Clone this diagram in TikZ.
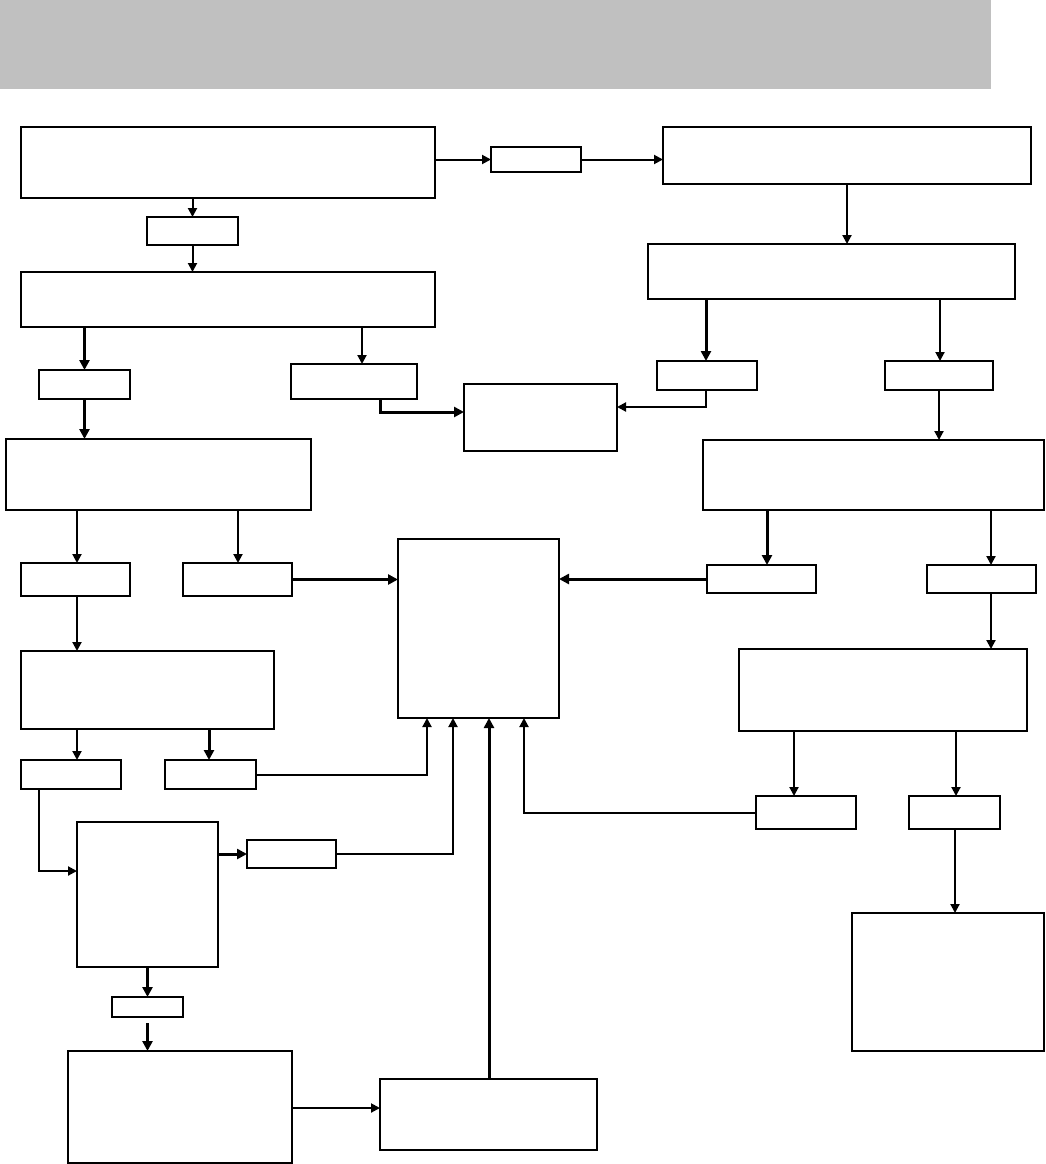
\documentclass[tikz,border=0pt]{standalone}
\usetikzlibrary{arrows.meta}
\definecolor{bannergray}{RGB}{192,192,192}
\begin{document}
\begin{tikzpicture}[x=1pt,y=-1pt,
  bx/.style={draw,line width=2.4pt,inner sep=0pt,outer sep=0pt,rectangle},
  con/.style={line width=2pt,-{Triangle[length=9pt,width=9pt]}},
  thk/.style={line width=3pt,-{Triangle[length=10pt,width=10pt]}},
  ln/.style={line width=2pt}]
\useasboundingbox (0,0) rectangle (1045,1164);
\fill[bannergray] (0,0) rectangle (991,89);
% boxes
\node[bx,minimum width=414pt,minimum height=71pt] (A) at (228,162.5) {};
\node[bx,minimum width=91pt,minimum height=28pt] (B) at (192.5,231) {};
\node[bx,minimum width=414pt,minimum height=55pt] (C) at (228,299.5) {};
\node[bx,minimum width=91pt,minimum height=29pt] (D) at (84.5,384.5) {};
\node[bx,minimum width=126pt,minimum height=35pt] (E) at (354,381.5) {};
\node[bx,minimum width=153pt,minimum height=67pt] (F) at (540.5,417.5) {};
\node[bx,minimum width=368pt,minimum height=57pt] (G) at (847,155.5) {};
\node[bx,minimum width=90pt,minimum height=25pt] (H) at (536,159.5) {};
\node[bx,minimum width=367pt,minimum height=55pt] (I) at (831.5,271.5) {};
\node[bx,minimum width=100pt,minimum height=29pt] (J) at (707,375.5) {};
\node[bx,minimum width=108pt,minimum height=29pt] (K) at (939,375.5) {};
\node[bx,minimum width=305pt,minimum height=71pt] (L) at (158.5,474.5) {};
\node[bx,minimum width=341pt,minimum height=70pt] (M) at (873.5,475) {};
\node[bx,minimum width=109pt,minimum height=33pt] (N) at (75.5,579.5) {};
\node[bx,minimum width=109pt,minimum height=33pt] (O) at (237.5,579.5) {};
\node[bx,minimum width=161pt,minimum height=179pt] (P) at (478.5,628.5) {};
\node[bx,minimum width=109pt,minimum height=28pt] (Q) at (761.5,579) {};
\node[bx,minimum width=109pt,minimum height=28pt] (R) at (981.5,579) {};
\node[bx,minimum width=253pt,minimum height=78pt] (S) at (147.5,690) {};
\node[bx,minimum width=288pt,minimum height=82pt] (T) at (883,690) {};
\node[bx,minimum width=100pt,minimum height=29pt] (U) at (71,774.5) {};
\node[bx,minimum width=91pt,minimum height=29pt] (V) at (210.5,774.5) {};
\node[bx,minimum width=141pt,minimum height=145pt] (W) at (147.5,894.5) {};
\node[bx,minimum width=89pt,minimum height=28pt] (X) at (291.5,854) {};
\node[bx,minimum width=71pt,minimum height=20pt] (Y) at (147.5,1007) {};
\node[bx,minimum width=224pt,minimum height=112pt] (Z) at (180,1107) {};
\node[bx,minimum width=217pt,minimum height=71pt] (AA) at (488.5,1114.5) {};
\node[bx,minimum width=100pt,minimum height=33pt] (BB) at (806,812.5) {};
\node[bx,minimum width=91pt,minimum height=33pt] (CC) at (954.5,812.5) {};
\node[bx,minimum width=192pt,minimum height=138pt] (DD) at (948,982) {};
% connectors
\draw[con] (A.east |- H.west) -- (H.west);
\draw[con] (H.east) -- (G.west |- H.east);
\draw[con] (A.south -| B.north) -- (B.north);
\draw[con] (B.south) -- (C.north -| B.south);
\draw[con] (G.south) -- (I.north -| G.south);
\draw[thk] (C.south -| D.north) -- (D.north);
\draw[con] (362,0 |- C.south) -- (362,0 |- E.north);
\draw[thk] (D.south) -- (L.north -| D.south);
\draw[thk] (380,0 |- E.south) -- (380,412) -- (F.west |- 0,412);
\draw[thk] (706,0 |- I.south) -- (706,0 |- J.north);
\draw[con] (940,0 |- I.south) -- (940,0 |- K.north);
\draw[con] (706,0 |- J.south) -- (706,407) -- (F.east |- 0,407);
\draw[con] (K.south) -- (M.north -| K.south);
\draw[con] (77,0 |- L.south) -- (77,0 |- N.north);
\draw[con] (238,0 |- L.south) -- (238,0 |- O.north);
\draw[thk] (O.east) -- (P.west |- O.east);
\draw[thk] (Q.west) -- (P.east |- Q.west);
\draw[thk] (767,0 |- M.south) -- (767,0 |- Q.north);
\draw[con] (991,0 |- M.south) -- (991,0 |- R.north);
\draw[con] (77,0 |- N.south) -- (77,0 |- S.north);
\draw[con] (991,0 |- R.south) -- (991,0 |- T.north);
\draw[con] (77,0 |- S.south) -- (77,0 |- U.north);
\draw[thk] (209,0 |- S.south) -- (209,0 |- V.north);
\draw[con] (V.east) -- (427,0 |- V.east) -- (427,0 |- P.south);
\draw[con] (39,0 |- U.south) -- (39,871) -- (W.west |- 0,871);
\draw[thk] (W.east |- X.west) -- (X.west);
\draw[con] (X.east) -- (453,0 |- X.east) -- (453,0 |- P.south);
\draw[thk] (489,0 |- AA.north) -- (489,0 |- P.south);
\draw[con] (BB.west) -- (524,0 |- BB.west) -- (524,0 |- P.south);
\draw[con] (794,0 |- T.south) -- (794,0 |- BB.north);
\draw[con] (956,0 |- T.south) -- (956,0 |- CC.north);
\draw[con] (CC.south -| 955,0) -- (955,0 |- DD.north);
\draw[thk] (W.south -| Y.north) -- (Y.north);
\draw[thk,shorten <=6pt] (Y.south) -- (Z.north -| Y.south);
\draw[con] (Z.east |- 0,1108) -- (AA.west |- 0,1108);
\end{tikzpicture}
\end{document}
